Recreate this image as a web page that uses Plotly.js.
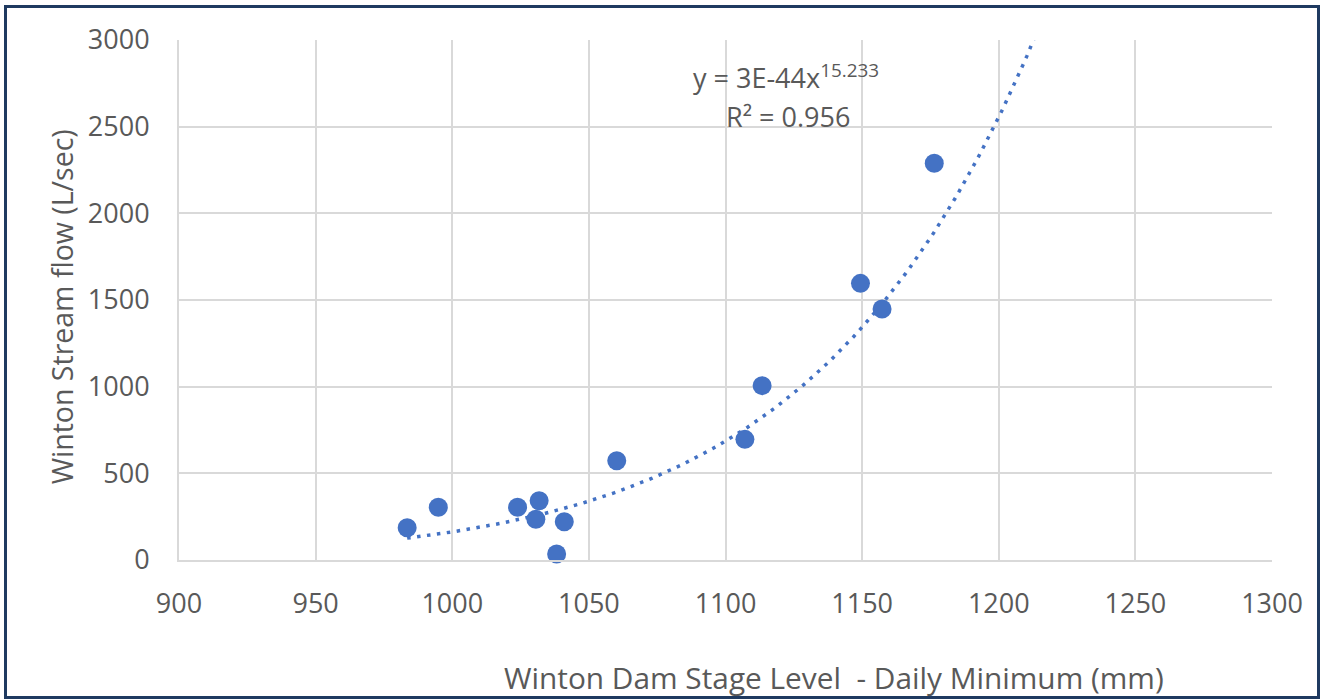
<!DOCTYPE html>
<html>
<head>
<meta charset="utf-8">
<script src="https://cdn.plot.ly/plotly-3.0.1.min.js"></script>
<style>
  html, body { margin: 0; padding: 0; background: #ffffff; }
  #wrap { position: relative; width: 1325px; height: 700px; }
  #chart { position: absolute; left: 0; top: 0; width: 1325px; height: 700px; }
  #frame { position: absolute; left: 4px; top: 5px; width: 1310px; height: 688px;
           border: 3px solid #1F3A60; pointer-events: none; }
</style>
</head>
<body>
<div id="wrap">
  <div id="chart"></div>
  <div id="frame"></div>
</div>
<script>
// ---- data ----
const stageLevel = [983.5, 994.9, 1023.9, 1031.8, 1030.6, 1041.0, 1038.2, 1060.2, 1107.1, 1113.4, 1149.4, 1157.3, 1176.4];
const streamFlow = [186, 304, 304, 342, 235, 221, 35, 573, 696, 1006, 1596, 1448, 2289];
const xTickVals = [900, 950, 1000, 1050, 1100, 1150, 1200, 1250, 1300];
const yTickVals = [0, 500, 1000, 1500, 2000, 2500, 3000];
const xTitle = 'Winton Dam Stage Level  - Daily Minimum (mm)';
const yTitle = 'Winton Stream flow (L/sec)';
const eqText = 'y = 3E-44x<sup>15.233</sup>';
const r2Text = 'R² = 0.956';

// ---- power trendline fitted (least squares on ln-ln) from the data ----
const n = stageLevel.length;
let sx = 0, sy = 0, sxx = 0, sxy = 0;
for (let i = 0; i < n; i++) {
  const lx = Math.log(stageLevel[i]), ly = Math.log(streamFlow[i]);
  sx += lx; sy += ly; sxx += lx * lx; sxy += lx * ly;
}
const b = (n * sxy - sx * sy) / (n * sxx - sx * sx);
const lnA = (sy - b * sx) / n;
const xMin = Math.min(...stageLevel);
const trendX = [], trendY = [];
for (let k = 0; k <= 300; k++) {
  const xv = xMin + (1300 - xMin) * k / 300;
  trendX.push(xv);
  trendY.push(Math.exp(lnA + b * Math.log(xv)));
}

const blue = '#4472C4';
const txt = '#595959';
const grid = '#D9D9D9';
const fontFam = '"Open Sans", "Noto Sans", sans-serif';

const traces = [
  {
    x: trendX, y: trendY, mode: 'lines', type: 'scatter',
    line: { color: blue, width: 3.5, dash: '3.5px,6.5px' },
    hoverinfo: 'skip', showlegend: false
  },
  {
    x: stageLevel, y: streamFlow, mode: 'markers', type: 'scatter',
    marker: { color: blue, size: 19, line: { width: 0 } },
    showlegend: false, cliponaxis: false
  }
];

const layout = {
  width: 1325, height: 700,
  margin: { l: 179, r: 53, t: 40, b: 140 },
  paper_bgcolor: '#ffffff', plot_bgcolor: '#ffffff',
  font: { family: fontFam, color: txt, size: 27 },
  showlegend: false,
  xaxis: {
    range: [900, 1300], tickvals: xTickVals, ticktext: xTickVals.map(String),
    showgrid: true, gridcolor: grid, gridwidth: 2,
    showline: true, linecolor: grid, linewidth: 2, zeroline: false,
    ticks: 'outside', ticklen: 19, tickcolor: 'rgba(0,0,0,0)',
    tickfont: { family: fontFam, size: 27, color: txt }, fixedrange: true
  },
  yaxis: {
    range: [0, 3000], tickvals: yTickVals, ticktext: yTickVals.map(String),
    showgrid: true, gridcolor: grid, gridwidth: 2,
    showline: true, linecolor: grid, linewidth: 2, zeroline: false,
    ticks: 'outside', ticklen: 22, tickcolor: 'rgba(0,0,0,0)',
    tickfont: { family: fontFam, size: 27, color: txt }, fixedrange: true
  },
  annotations: [
    { text: xTitle, xref: 'paper', yref: 'paper', x: 0.599, y: -0.225,
      xanchor: 'center', yanchor: 'middle', showarrow: false,
      font: { family: fontFam, size: 29.8, color: txt } },
    { text: yTitle, xref: 'paper', yref: 'paper', x: -0.107, y: 0.486,
      xanchor: 'center', yanchor: 'middle', showarrow: false, textangle: -90,
      font: { family: fontFam, size: 28.5, color: txt } },
    { text: eqText, xref: 'paper', yref: 'paper', x: (786 - 179) / 1093, y: (560 - 77) / 520,
      xanchor: 'center', yanchor: 'middle', showarrow: false,
      font: { family: fontFam, size: 27, color: txt } },
    { text: r2Text, xref: 'paper', yref: 'paper', x: (788 - 179) / 1093, y: (560 - 116) / 520,
      xanchor: 'center', yanchor: 'middle', showarrow: false,
      font: { family: fontFam, size: 27, color: txt } }
  ]
};

Plotly.newPlot('chart', traces, layout, { displayModeBar: false, staticPlot: true });
</script>
</body>
</html>
